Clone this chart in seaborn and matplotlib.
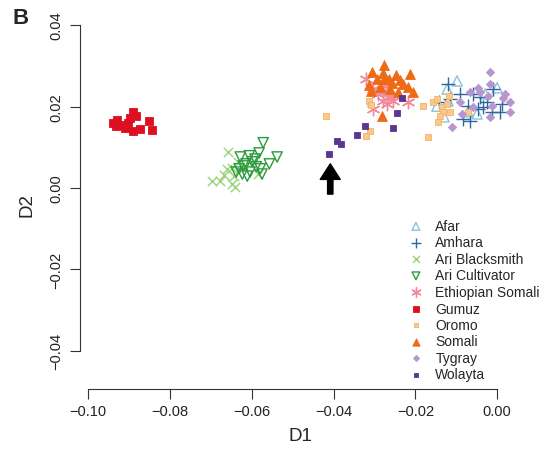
import numpy as np
import pandas as pd
import seaborn as sns
import matplotlib.pyplot as plt

sns.set_style("ticks")
plt.rcParams['font.family'] = ['Liberation Sans', 'DejaVu Sans']

# population coordinates (D1, D2)
afar_x = [-0.0098, -0.0122, -0.0120, -0.0147, -0.0049, 0.0000, -0.0071, -0.0029, -0.0130]
afar_y = [0.0263, 0.0243, 0.0214, 0.0201, 0.0182, 0.0246, 0.0187, 0.0231, 0.0175]

amhara_x = [-0.0120, -0.0090, -0.0142, -0.0115, -0.0071, -0.0059, -0.0042, -0.0024, -0.0012,
            0.0007, 0.0012, -0.0010, -0.0083, -0.0066, -0.0034, -0.0046]
amhara_y = [0.0256, 0.0231, 0.0211, 0.0219, 0.0201, 0.0231, 0.0224, 0.0211, 0.0187,
            0.0187, 0.0206, 0.0243, 0.0170, 0.0165, 0.0199, 0.0194]

blacksmith_x = [-0.0697, -0.0677, -0.0658, -0.0660, -0.0648, -0.0643, -0.0641, -0.0648,
                -0.0633, -0.0619, -0.0584, -0.0667]
blacksmith_y = [0.0017, 0.0017, 0.0088, 0.0047, 0.0049, 0.0029, 0.0002, 0.0010,
                0.0064, 0.0052, 0.0034, 0.0032]

cultivator_x = [-0.0572, -0.0582, -0.0606, -0.0628, -0.0538, -0.0557, -0.0599, -0.0621, -0.0631,
                -0.0604, -0.0579, -0.0575, -0.0611, -0.0623, -0.0592, -0.0614, -0.0589, -0.0638]
cultivator_y = [0.0111, 0.0086, 0.0079, 0.0076, 0.0076, 0.0059, 0.0064, 0.0054, 0.0047,
                0.0039, 0.0047, 0.0034, 0.0029, 0.0034, 0.0071, 0.0059, 0.0052, 0.0039]

ethsomali_x = [-0.0320, -0.0303, -0.0279, -0.0267, -0.0279, -0.0254, -0.0269, -0.0303,
               -0.0218, -0.0262, -0.0274, -0.0291]
ethsomali_y = [0.0268, 0.0243, 0.0236, 0.0224, 0.0214, 0.0214, 0.0206, 0.0194,
               0.0211, 0.0226, 0.0251, 0.0231]

gumuz_x = [-0.0890, -0.0883, -0.0897, -0.0929, -0.0939, -0.0922, -0.0910, -0.0890, -0.0873,
           -0.0851, -0.0844, -0.0932, -0.0902]
gumuz_y = [0.0187, 0.0177, 0.0172, 0.0167, 0.0160, 0.0155, 0.0147, 0.0140, 0.0145,
           0.0165, 0.0143, 0.0152, 0.0160]

oromo_x = [-0.0418, -0.0313, -0.0308, -0.0310, -0.0320, -0.0181, -0.0156, -0.0134, -0.0132,
           -0.0144, -0.0117, -0.0122, -0.0071, -0.0169, -0.0115, -0.0147, -0.0139]
oromo_y = [0.0177, 0.0214, 0.0204, 0.0140, 0.0128, 0.0201, 0.0211, 0.0199, 0.0187,
           0.0162, 0.0226, 0.0206, 0.0187, 0.0125, 0.0187, 0.0219, 0.0177]

somali_x = [-0.0276, -0.0306, -0.0279, -0.0247, -0.0213, -0.0276, -0.0257, -0.0237, -0.0230,
            -0.0313, -0.0286, -0.0262, -0.0218, -0.0205, -0.0242, -0.0281, -0.0308, -0.0264, -0.0293]
somali_y = [0.0302, 0.0285, 0.0283, 0.0278, 0.0280, 0.0268, 0.0258, 0.0265, 0.0256,
            0.0253, 0.0248, 0.0243, 0.0248, 0.0236, 0.0236, 0.0177, 0.0238, 0.0268, 0.0268]

tygray_x = [-0.0017, -0.0017, 0.0015, 0.0032, 0.0032, -0.0017, -0.0110, -0.0086, -0.0066,
            -0.0042, -0.0022, -0.0012, -0.0059, -0.0090, -0.0046, 0.0020]
tygray_y = [0.0285, 0.0256, 0.0221, 0.0211, 0.0187, 0.0174, 0.0150, 0.0182, 0.0236,
            0.0236, 0.0226, 0.0201, 0.0199, 0.0211, 0.0246, 0.0231]

wolayta_x = [-0.0411, -0.0391, -0.0381, -0.0342, -0.0323, -0.0254, -0.0245, -0.0232]
wolayta_y = [0.0084, 0.0115, 0.0108, 0.0130, 0.0152, 0.0147, 0.0184, 0.0221]

x_ticks = [-0.10, -0.08, -0.06, -0.04, -0.02, 0.00]
y_ticks = [-0.04, -0.02, 0.00, 0.02, 0.04]

# name, x, y, marker, colour, filled, size
groups = [
    ("Afar", afar_x, afar_y, "^", "#8fc0dc", False, 55),
    ("Amhara", amhara_x, amhara_y, "+", "#2e66a0", None, 110),
    ("Ari Blacksmith", blacksmith_x, blacksmith_y, "x", "#98d378", None, 45),
    ("Ari Cultivator", cultivator_x, cultivator_y, "v", "#2c9a3c", False, 55),
    ("Ethiopian Somali", ethsomali_x, ethsomali_y, (6, 2, 0), "#f2889a", None, 80),
    ("Gumuz", gumuz_x, gumuz_y, "s", "#dc1020", True, 34),
    ("Oromo", oromo_x, oromo_y, "s", "#fcc88a", True, 22),
    ("Somali", somali_x, somali_y, "^", "#ee6a14", True, 50),
    ("Tygray", tygray_x, tygray_y, "D", "#b596cf", True, 18),
    ("Wolayta", wolayta_x, wolayta_y, "s", "#5a3592", True, 21),
]

fig = plt.figure(figsize=(5.5, 4.52), dpi=100)
ax = fig.add_axes([80 / 550, 1 - 390 / 452, 440 / 550, 370 / 452])

for name, xs, ys, mk, col, filled, sz in groups:
    df = pd.DataFrame({"D1": xs, "D2": ys})
    if filled is False:
        sns.scatterplot(data=df, x="D1", y="D2", ax=ax, marker=mk, s=sz, color=col,
                        facecolor="none", edgecolor=col, linewidth=1.0, label=name)
    elif filled is None:
        sns.scatterplot(data=df, x="D1", y="D2", ax=ax, marker=mk, s=sz, color=col,
                        edgecolor=col, linewidth=1.0, label=name)
    else:
        ec = "#f3b46a" if name == "Oromo" else col
        sns.scatterplot(data=df, x="D1", y="D2", ax=ax, marker=mk, s=sz, color=col,
                        edgecolor=ec, linewidth=0.6, label=name)

# arrow pointing at the first Wolayta sample
ax.annotate("", xy=(-0.0408, 0.0066), xytext=(-0.0408, -0.0022),
            arrowprops=dict(arrowstyle="simple,head_width=0.9,head_length=0.7,tail_width=0.24",
                            color="black", mutation_scale=16))

ax.set_xlim(-0.102, 0.0056)
ax.set_ylim(-0.0494, 0.0415)
ax.set_xticks(x_ticks)
ax.set_yticks(y_ticks)
ax.set_xticklabels([f"{v:.2f}".replace("-", "\u2212") for v in x_ticks], fontsize=10.5)
ax.set_yticklabels([f"{v:.2f}".replace("-", "\u2212") for v in y_ticks], fontsize=10.5,
                   rotation=90, va="center")
ax.tick_params(axis="both", length=7, width=0.8, color="#333333", labelcolor="#222222", pad=4)
ax.tick_params(axis="y", pad=5)

for s in ["top", "right"]:
    ax.spines[s].set_visible(False)
ax.spines["left"].set_bounds(-0.04, 0.04)
ax.spines["bottom"].set_bounds(-0.10, 0.00)
ax.spines["left"].set_linewidth(0.8)
ax.spines["bottom"].set_linewidth(0.8)
ax.spines["left"].set_color("#333333")
ax.spines["bottom"].set_color("#333333")

ax.set_xlabel("D1", fontsize=13.5, labelpad=6)
ax.set_ylabel("D2", fontsize=13.5, labelpad=10)

ax.legend_.remove()
handles, labels = ax.get_legend_handles_labels()
fig.legend(handles, labels, loc="upper left", bbox_to_anchor=(409 / 550, 1 - 220 / 452),
           frameon=False, fontsize=10, handlelength=1.0, handletextpad=0.9,
           labelspacing=0.18, borderpad=0, borderaxespad=0, markerscale=0.75)

fig.text(12 / 550, 1 - 8 / 452, "B", fontsize=16, fontweight="bold", va="top", ha="left")

fig.savefig("out.png", dpi=100)
